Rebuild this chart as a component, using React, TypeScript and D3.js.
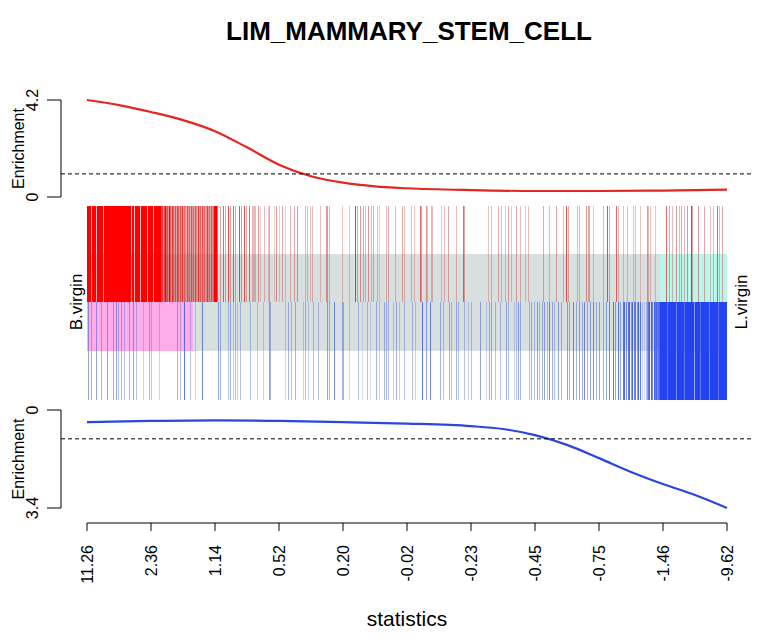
import React from "react";
import * as d3 from "d3";

const title = "LIM_MAMMARY_STEM_CELL";
const xTickLabels = ["11.26", "2.36", "1.14", "0.52", "0.20", "-0.02", "-0.23", "-0.45", "-0.75", "-1.46", "-9.62"];
const nRanks = 640;
const upLabel = "B.virgin";
const downLabel = "L.virgin";
const upQuantileRank = 106;
const downQuantileRank = 573;

// enrichment curves: [rank, value]
const upEnrichment: [number, number][] = [
  [0, 4.2], [32, 3.98], [64, 3.68], [96, 3.33], [128, 2.85], [160, 2.15], [192, 1.4],
  [224, 0.9], [256, 0.62], [288, 0.46], [320, 0.38], [384, 0.3], [448, 0.26], [512, 0.26],
  [576, 0.28], [640, 0.32],
];
const downEnrichment: [number, number][] = [
  [0, 0.42], [64, 0.38], [128, 0.36], [192, 0.38], [256, 0.42], [320, 0.47], [384, 0.56],
  [416, 0.66], [448, 0.87], [480, 1.21], [512, 1.67], [544, 2.15], [576, 2.57], [608, 2.95], [640, 3.4],
];
const upMax = 4.2;
const downMax = 3.4;

// up-set bars: [rank, weight]
const upBars: [number, number][] = [
  [0, 1], [1, 1], [2, 1], [3, 1], [4, 0.35], [5, 1], [6, 1], [7, 1], [8, 1], [9, 0.35], [10, 1], [11, 1],
  [12, 1], [13, 1], [14, 1], [15, 1], [16, 0.35], [17, 1], [18, 1], [19, 1], [20, 1], [21, 1], [22, 1],
  [23, 1], [24, 1], [25, 1], [26, 1], [27, 1], [28, 1], [29, 1], [30, 1], [31, 1], [32, 1], [33, 1],
  [34, 1], [35, 1], [36, 1], [37, 1], [38, 1], [39, 1], [40, 1], [41, 1], [42, 1], [43, 1], [44, 0.35],
  [45, 1], [46, 1], [47, 0.35], [48, 1], [49, 1], [50, 1], [51, 1], [52, 1], [53, 0.35], [54, 1],
  [55, 1], [56, 1], [57, 1], [58, 1], [59, 1], [60, 0.35], [61, 1], [62, 1], [63, 1], [64, 1], [65, 1],
  [66, 0.35], [67, 1], [68, 1], [69, 1], [70, 1], [71, 1], [72, 1], [73, 1],
  [74, 0.9], [75, 0.9], [76, 0.6], [77, 0.8], [78, 1], [79, 0.7], [80, 0.8], [81, 0.6], [82, 1],
  [83, 0.7], [84, 0.5], [85, 0.9], [86, 0.7], [87, 0.6], [88, 0.8], [89, 0.5], [90, 0.9], [91, 0.7],
  [92, 0.5], [93, 0.8], [94, 0.6], [95, 0.9], [96, 0.5], [97, 0.7], [98, 0.6], [99, 0.5], [100, 0.8],
  [101, 0.6], [102, 0.7], [103, 0.5], [104, 0.8], [105, 0.6], [106, 0.7], [107, 0.5], [108, 0.8],
  [109, 0.6], [110, 0.5], [111, 0.9], [112, 0.6], [113, 0.7], [114, 0.5], [115, 0.8], [116, 0.6],
  [117, 0.7], [118, 0.5], [119, 0.6], [120, 0.9], [121, 0.6], [122, 0.7], [123, 0.5], [124, 0.8],
  [125, 0.6], [126, 0.7], [127, 1], [128, 1], [129, 1], [130, 0.7],
  [133, 0.5], [136, 0.7], [138, 0.5], [141, 0.8], [143, 0.6],
  [146, 0.7], [148, 0.5], [152, 0.8], [154, 0.6], [157, 0.8], [159, 0.5], [162, 0.7], [165, 0.4],
  [166, 0.4], [167, 0.4], [168, 0.4], [171, 0.6], [173, 0.3], [177, 0.4], [181, 0.3], [182, 0.5],
  [187, 0.3], [189, 0.6], [192, 0.3], [195, 0.5], [198, 0.3], [203, 0.4], [207, 0.5], [210, 0.6],
  [218, 0.4], [220, 0.4], [223, 0.35], [225, 0.4], [233, 0.35], [239, 0.6], [240, 0.6], [242, 0.4],
  [255, 0.35], [262, 0.35], [268, 0.9], [270, 0.5], [273, 0.6], [276, 0.5], [278, 0.4], [281, 0.6],
  [284, 0.4], [286, 0.5], [290, 0.4], [292, 0.3], [299, 0.4], [301, 0.5], [308, 0.4], [315, 0.5],
  [317, 0.4], [324, 0.4], [327, 0.35], [333, 0.7], [334, 0.5], [339, 0.6], [340, 0.4], [344, 0.4],
  [345, 0.4], [354, 0.35], [357, 0.4], [361, 0.5], [369, 0.4], [376, 0.7], [377, 0.5], [401, 0.35],
  [404, 0.4], [411, 0.5], [414, 0.4], [418, 0.35], [421, 0.5], [424, 0.35], [429, 0.5], [433, 0.4],
  [438, 0.35], [441, 0.4], [456, 0.5], [462, 0.4], [469, 0.5], [476, 0.4], [479, 0.8], [481, 0.5],
  [490, 0.4], [492, 0.4], [499, 0.6], [501, 0.5], [502, 0.5], [506, 0.35], [516, 0.4], [520, 0.8],
  [522, 0.5], [529, 0.7], [531, 0.4], [536, 0.35], [540, 0.4], [546, 0.35], [548, 0.4], [553, 0.35],
  [560, 0.6], [561, 0.4], [563, 0.35], [568, 0.35], [579, 0.7], [582, 0.5], [585, 0.4], [589, 0.6],
  [592, 0.4], [594, 0.5], [597, 0.4], [600, 0.6], [604, 0.9], [605, 0.5], [611, 0.6], [617, 0.5],
  [623, 0.35], [626, 0.4], [630, 0.7], [632, 0.4], [635, 0.5],
];

// down-set bars: [rank, weight]
const downBars: [number, number][] = [
  [1, 0.6], [4, 0.5], [9, 0.6], [14, 0.5], [20, 0.6], [26, 0.5], [29, 0.6], [31, 0.4], [34, 0.5],
  [37, 0.4], [42, 0.5], [46, 0.6], [49, 0.4], [56, 0.3], [62, 0.5], [64, 0.4], [72, 0.3], [90, 0.5],
  [93, 0.4], [97, 0.8], [103, 0.4], [108, 0.3], [115, 0.7], [131, 0.6], [133, 0.5], [141, 0.4],
  [143, 0.5], [146, 0.3], [148, 0.4], [150, 0.3], [153, 0.4], [163, 0.4], [170, 0.3], [176, 0.3],
  [182, 0.6], [183, 0.5], [198, 0.3], [201, 0.5], [204, 0.4], [208, 0.5], [216, 0.3], [218, 0.4],
  [221, 0.3], [226, 0.4], [231, 0.4], [240, 0.6], [242, 0.5], [247, 0.7], [255, 0.5], [256, 0.5],
  [262, 0.3], [271, 0.4], [275, 0.2], [280, 0.4], [283, 0.2], [289, 0.5], [292, 0.3], [297, 0.5],
  [299, 0.5], [301, 0.4], [306, 0.3], [309, 0.5], [312, 0.3], [317, 0.4], [325, 0.4], [328, 0.3],
  [335, 0.8], [339, 0.6], [343, 0.7], [353, 0.5], [356, 0.4], [362, 0.5], [364, 0.4], [369, 0.5],
  [371, 0.4], [377, 0.4], [381, 0.3], [384, 0.4], [393, 0.6], [399, 0.3], [402, 0.5], [404, 0.5],
  [408, 0.4], [413, 0.4], [419, 0.5], [421, 0.4], [427, 0.3], [429, 0.4], [431, 0.6], [433, 0.5],
  [442, 0.4], [444, 0.5], [447, 0.4], [450, 0.6], [452, 0.4], [455, 0.5], [457, 0.6], [460, 0.4],
  [462, 0.7], [465, 0.5], [467, 0.4], [471, 0.6], [474, 0.5], [480, 0.6], [482, 0.5], [486, 0.7],
  [489, 0.5], [492, 0.6], [495, 0.5], [497, 0.7], [500, 0.5], [503, 0.6], [506, 0.7], [509, 0.5],
  [512, 0.6], [516, 0.5], [519, 0.6], [522, 0.7], [526, 0.8], [528, 0.6], [531, 0.8], [533, 0.6],
  [536, 0.8], [537, 0.9], [539, 0.7], [541, 0.8], [542, 0.9], [544, 0.6], [545, 0.9], [547, 0.7],
  [548, 0.8], [550, 0.6], [551, 0.9], [553, 0.8], [555, 0.3], [557, 0.25], [559, 0.4],
  [560, 0.6], [561, 0.8], [562, 0.9], [564, 0.9], [565, 0.7], [567, 0.9], [568, 0.8],
  [569, 0.9], [570, 0.7], [571, 0.8], [572, 0.9], [573, 1], [574, 1], [575, 1], [576, 1], [577, 1],
  [578, 1], [579, 1], [580, 0.8], [581, 1], [582, 1], [583, 1], [584, 1], [585, 1], [586, 1],
  [587, 1], [588, 1], [589, 0.7], [590, 1], [591, 1], [592, 1], [593, 1], [594, 1], [595, 1],
  [596, 1], [597, 0.8], [598, 1], [599, 1], [600, 1], [601, 1], [602, 1], [603, 1], [604, 1],
  [605, 1], [606, 1], [607, 0.6], [608, 1], [609, 1], [610, 1], [611, 1], [612, 1], [613, 0.8],
  [614, 1], [615, 1], [616, 1], [617, 1], [618, 1], [619, 1], [620, 1], [621, 1], [622, 0.7],
  [623, 1], [624, 1], [625, 1], [626, 1], [627, 1], [628, 1], [629, 1], [630, 1], [631, 0.8],
  [632, 1], [633, 1], [634, 1], [635, 1], [636, 1], [637, 1], [638, 1], [639, 1],
];

const W = 765;
const H = 640;
const FONT = "'Liberation Sans', Arial, sans-serif";

export default function App() {
  const x = d3.scaleLinear().domain([0, nRanks]).range([87, 727]);
  const yUp = d3.scaleLinear().domain([0, upMax]).range([197, 100]);
  const yDown = d3.scaleLinear().domain([0, downMax]).range([410, 508]);

  const upLine = d3
    .line<[number, number]>()
    .x((d) => x(d[0]))
    .y((d) => yUp(d[1]))
    .curve(d3.curveMonotoneX);
  const downLine = d3
    .line<[number, number]>()
    .x((d) => x(d[0]))
    .y((d) => yDown(d[1]))
    .curve(d3.curveMonotoneX);

  const barTop = 206;
  const barMid = 302;
  const barBottom = 400;
  const bandTop = 254;
  const bandBottom = 351;
  const axisX = 61;
  const xAxisY = 523;
  const tickPos = d3.range(xTickLabels.length).map((i) => (i * nRanks) / (xTickLabels.length - 1));

  const upColor = (w: number) => (w >= 1 ? "#ff0000" : w >= 0.7 ? "#e01818" : "#c84848");
  const downColor = (w: number) => (w >= 1 ? "#2342f2" : w >= 0.7 ? "#2f4ee6" : "#4560d0");

  return (
    <div style={{ position: "absolute", left: 0, top: 0 }}>
      <svg width={W} height={H} style={{ display: "block", background: "#fff" }} fontFamily={FONT}>
        <rect x={0} y={0} width={W} height={H} fill="#fff" />
        <text x={409} y={40} textAnchor="middle" fontSize={26} fontWeight="bold">
          {title}
        </text>

        {/* top enrichment panel */}
        <path d={upLine(upEnrichment) ?? ""} fill="none" stroke="#e3261f" strokeWidth={2.2} />
        <line x1={axisX} x2={752} y1={yUp(1)} y2={yUp(1)} stroke="#000" strokeDasharray="4,3" />
        <line x1={axisX} x2={axisX} y1={yUp(upMax)} y2={yUp(0)} stroke="#000" />
        {[0, upMax].map((v) => (
          <g key={v}>
            <line x1={axisX - 14} x2={axisX} y1={yUp(v)} y2={yUp(v)} stroke="#000" />
            <text
              transform={`translate(${axisX - 29},${yUp(v)}) rotate(-90)`}
              textAnchor="middle"
              dominantBaseline="central"
              fontSize={16}
            >
              {v === 0 ? "0" : v.toFixed(1)}
            </text>
          </g>
        ))}
        <text
          transform={`translate(18,${(yUp(0) + yUp(upMax)) / 2}) rotate(-90)`}
          textAnchor="middle"
          dominantBaseline="central"
          fontSize={16}
        >
          Enrichment
        </text>

        {/* barcode bands */}
        <rect x={x(0)} y={bandTop} width={x(nRanks) - x(0)} height={bandBottom - bandTop} fill="#d8dfdf" />
        <rect x={x(0)} y={barMid} width={x(upQuantileRank) - x(0)} height={bandBottom - barMid} fill="#ffadea" />
        <rect
          x={x(downQuantileRank)}
          y={bandTop}
          width={x(nRanks) - x(downQuantileRank)}
          height={barMid - bandTop}
          fill="#b8f5ea"
        />

        {/* bars */}
        <g shapeRendering="crispEdges">
          {upBars.map(([r, w], i) => (
            <line
              key={"u" + i}
              x1={x(r) + 0.5}
              x2={x(r) + 0.5}
              y1={barTop}
              y2={barMid}
              stroke={upColor(w)}
              strokeOpacity={w >= 1 ? 1 : Math.min(1, w * 0.95)}
              strokeWidth={1}
            />
          ))}
          {downBars.map(([r, w], i) => (
            <line
              key={"d" + i}
              x1={x(r) + 0.5}
              x2={x(r) + 0.5}
              y1={barMid}
              y2={barBottom}
              stroke={downColor(w)}
              strokeOpacity={w >= 1 ? 1 : Math.min(1, w * 0.95)}
              strokeWidth={1}
            />
          ))}
        </g>
        <text
          transform={`translate(76,${barMid}) rotate(-90)`}
          textAnchor="middle"
          dominantBaseline="central"
          fontSize={17}
        >
          {upLabel}
        </text>
        <text
          transform={`translate(741,${barMid}) rotate(-90)`}
          textAnchor="middle"
          dominantBaseline="central"
          fontSize={17}
        >
          {downLabel}
        </text>

        {/* bottom enrichment panel */}
        <path d={downLine(downEnrichment) ?? ""} fill="none" stroke="#2a45e0" strokeWidth={2.2} />
        <line x1={axisX} x2={752} y1={yDown(1)} y2={yDown(1)} stroke="#000" strokeDasharray="4,3" />
        <line x1={axisX} x2={axisX} y1={yDown(0)} y2={yDown(downMax)} stroke="#000" />
        {[0, downMax].map((v) => (
          <g key={v}>
            <line x1={axisX - 14} x2={axisX} y1={yDown(v)} y2={yDown(v)} stroke="#000" />
            <text
              transform={`translate(${axisX - 29},${yDown(v)}) rotate(-90)`}
              textAnchor="middle"
              dominantBaseline="central"
              fontSize={16}
            >
              {v === 0 ? "0" : v.toFixed(1)}
            </text>
          </g>
        ))}
        <text
          transform={`translate(18,${(yDown(0) + yDown(downMax)) / 2}) rotate(-90)`}
          textAnchor="middle"
          dominantBaseline="central"
          fontSize={16}
        >
          Enrichment
        </text>

        {/* x axis */}
        <line x1={x(0)} x2={x(nRanks)} y1={xAxisY} y2={xAxisY} stroke="#000" />
        {tickPos.map((t, i) => (
          <g key={i}>
            <line x1={x(t)} x2={x(t)} y1={xAxisY} y2={xAxisY + 8} stroke="#000" />
            <text
              transform={`translate(${x(t)},${xAxisY + 22}) rotate(-90)`}
              textAnchor="end"
              dominantBaseline="central"
              fontSize={16}
            >
              {xTickLabels[i]}
            </text>
          </g>
        ))}
        <text x={407} y={626} textAnchor="middle" fontSize={21}>
          statistics
        </text>
      </svg>
    </div>
  );
}
